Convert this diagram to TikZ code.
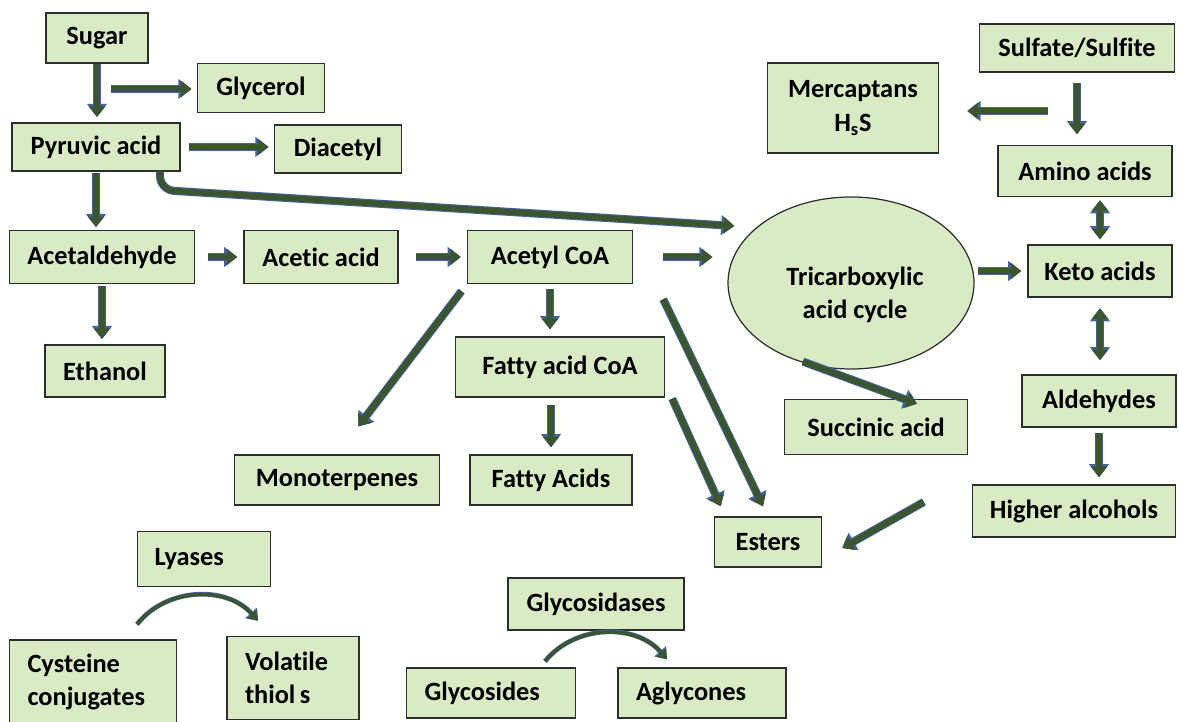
\documentclass[tikz,border=0pt]{standalone}
\usepackage{fontspec}
\setmainfont[Ligatures=NoCommon]{Carlito}
\usetikzlibrary{arrows.meta, shapes, calc, positioning}
\definecolor{boxfill}{HTML}{D8EBC5}
\definecolor{boxline}{HTML}{2E2E2E}
\definecolor{flowgreen}{HTML}{3A5530}
\definecolor{flowblue}{HTML}{43639A}
\newcommand{\lblfont}{\bfseries\fontsize{15}{19}\selectfont}

\tikzset{
  fg/.tip={Triangle[length=6pt,width=9pt]},
  bg/.tip={Triangle[length=7.5pt,width=11pt]},
  box/.style={draw=boxline, line width=0.8pt, fill=boxfill, font=\lblfont, align=center, inner sep=2pt},
  sz/.style 2 args={minimum width=#1*0.02cm, minimum height=#2*0.02cm},
  flow/.style={draw=flowgreen, line width=3.4pt, -fg, preaction={draw=flowblue, line width=4.6pt, -bg}},
  twoway/.style={draw=flowgreen, line width=3.4pt, fg-fg, preaction={draw=flowblue, line width=4.6pt, bg-bg}},
  curv/.style={draw=flowgreen, line width=1.9pt, -{Triangle[length=5pt,width=7pt]}, preaction={draw=flowblue, line width=2.7pt, -{Triangle[length=6pt,width=8.5pt]}}}
}

\begin{document}
\begin{tikzpicture}[x=0.02cm, y=-0.02cm]
\useasboundingbox (0,0) rectangle (1179,722);

% left column
\node[box, sz={102}{50}] (sugar) at (97,38) {Sugar};
\node[box, sz={127}{49}] (glycerol) at (261,88) {Glycerol};
\node[box, sz={168}{48}] (pyruvic) at (96,147) {Pyruvic acid};
\node[box, sz={127}{48}] (diacetyl) at (338,149) {Diacetyl};
\node[box, sz={185}{53}] (acetald) at (102,257) {Acetaldehyde};
\node[box, sz={154}{53}] (acetic) at (321,257) {Acetic acid};
\node[box, sz={165}{53}] (acetylcoa) at (550,257) {Acetyl CoA};
\node[box, sz={120}{52}] (ethanol) at (105,371) {Ethanol};
\node[box, sz={209}{60}] (fattycoa) at (560,367) {Fatty acid CoA};
\node[box, sz={205}{50}] (monoterp) at (337,480) {Monoterpenes};
\node[box, sz={162}{50}] (fattyacids) at (551,480) {Fatty Acids};
\node[box, sz={107}{50}] (esters) at (768,542) {Esters};

% right side
\node[ellipse, draw=boxline, line width=0.7pt, fill=boxfill, sz={246}{172}] (tca) at (851,283) {};
\node[font=\lblfont, align=center] (tcatext) at (855,295) {Tricarboxylic\\acid cycle};
\node[box, sz={183}{55}] (succinic) at (876,427) {Succinic acid};
\node[box, sz={195}{48}] (sulfate) at (1077,48) {Sulfate/Sulfite};
\node[box, sz={171}{90}] (mercapt) at (853,108) {Mercaptans\\H\textsubscript{s}S};
\node[box, sz={174}{51}] (amino) at (1085,171) {Amino acids};
\node[box, sz={144}{52}] (keto) at (1100,271) {Keto acids};
\node[box, sz={154}{52}] (aldehydes) at (1099,401) {Aldehydes};
\node[box, sz={203}{52}] (higheralc) at (1074,511) {Higher alcohols};

% enzymes
\node[box, sz={133}{55}, align=left, text width=1.98cm] (lyases) at (204,559) {Lyases};
\node[box, sz={167}{84}, align=left, text width=2.62cm] (cysteine) at (93,682) {Cysteine\\conjugates};
\node[box, sz={132}{83}, align=left, text width=1.92cm] (thiols) at (293,678) {Volatile\\thiol\,s};
\node[box, sz={176}{52}] (glycosidases) at (596,604) {Glycosidases};
\node[box, sz={169}{50}, align=left, text width=2.66cm] (glycosides) at (491,693) {Glycosides};
\node[box, sz={168}{50}, align=left, text width=2.64cm] (aglycones) at (702,693) {Aglycones};

% arrows
\draw[flow, shorten >=3pt] (sugar.south) -- (sugar.south |- pyruvic.north);
\coordinate (gly0) at (111,89);
\draw[flow, shorten >=3pt] (gly0) -- (gly0 -| glycerol.west);
\draw[flow, shorten <=4.5pt, shorten >=3pt] (pyruvic.east) -- (pyruvic.east -| diacetyl.west);
\draw[flow, shorten <=1pt, shorten >=1.5pt] (pyruvic.south) -- (pyruvic.south |- acetald.north);
\coordinate (bend) at (160,190);
\draw[flow, rounded corners=8pt] (pyruvic.south -| bend) -- (bend) -- ($(tca.west)+(7,-57)$);
\draw[flow, shorten <=7pt, shorten >=3.4pt] (acetald.east) -- (acetic.west);
\draw[flow, shorten <=9.6pt, shorten >=3.4pt] (acetic.east) -- (acetylcoa.west);
\draw[flow, shorten <=17pt, shorten >=8.5pt] (acetylcoa.east) -- (acetylcoa.east -| tca.west);
\draw[flow, shorten <=1pt, shorten >=3pt] (acetald.south) -- (acetald.south |- ethanol.north);
\draw[flow, shorten <=3pt, shorten >=4pt] (acetylcoa.south) -- (acetylcoa.south |- fattycoa.north);
\draw[flow, shorten <=5pt, shorten >=20pt] (acetylcoa.south west) -- (monoterp.north);
\draw[flow] ($(acetylcoa.south east)+(30,15)$) -- ($(esters.north)+(-5,-10)$);
\draw[flow] ($(fattycoa.south east)+(7,1)$) -- ($(esters.north west)+(7,-10)$);
\draw[flow, shorten <=4pt, shorten >=4pt] (fattyacids.north |- fattycoa.south) -- (fattyacids.north);
\draw[flow] ($(tca.south)+(-48,-8)$) -- ($(succinic.north)+(41,5)$);
\draw[flow, shorten <=2pt, shorten >=3.4pt] (tca.east |- keto.west) -- (keto.west);
\draw[flow, shorten >=16pt] ($(mercapt.east)+(109,3)$) -- ($(mercapt.east)+(0,3)$);
\draw[flow, shorten <=6pt, shorten >=6pt] (sulfate.south) -- (sulfate.south |- amino.north);
\draw[twoway, shorten <=1.7pt, shorten >=2.8pt] (keto.north |- amino.south) -- (keto.north);
\draw[twoway, shorten <=6pt, shorten >=8pt] (keto.south) -- (keto.south |- aldehydes.north);
\draw[flow, shorten <=3pt, shorten >=4pt] (aldehydes.south) -- (aldehydes.south |- higheralc.north);
\draw[flow] ($(higheralc.west)+(-48,-9)$) -- ($(esters.east)+(20,6)$);

\draw[curv] ($(cysteine.north)+(44,-15)$) to[bend left=50] ($(thiols.north)+(-35,-15)$);
\draw[curv] ($(glycosides.north)+(54,-6)$) to[bend left=50] ($(aglycones.north)+(-35,-8)$);
\end{tikzpicture}
\end{document}
